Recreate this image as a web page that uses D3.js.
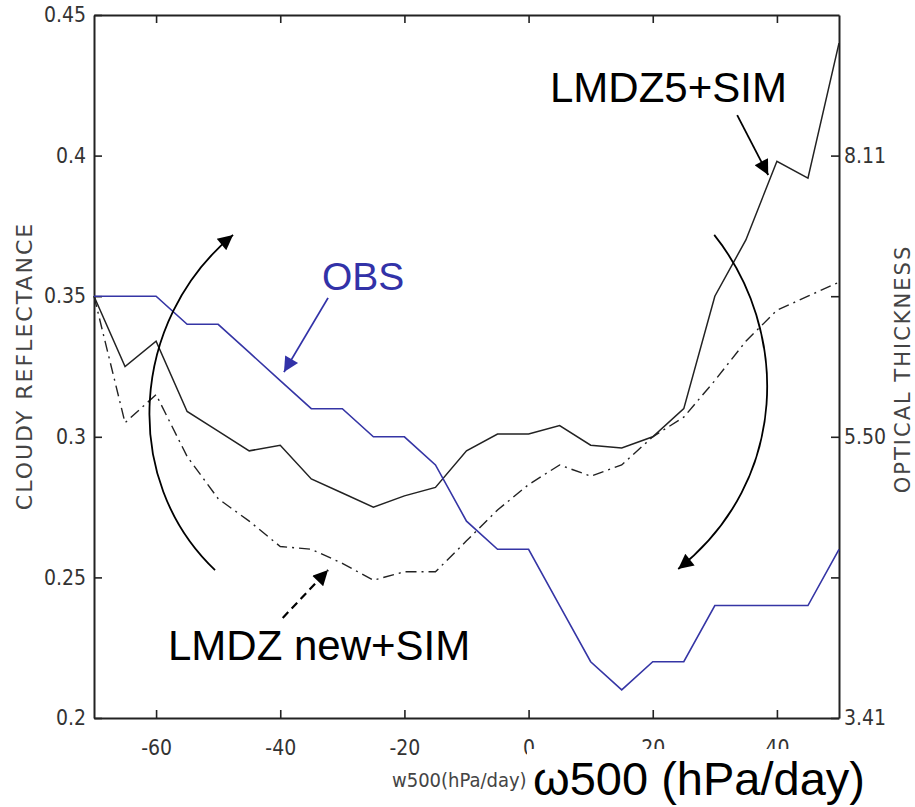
<!DOCTYPE html>
<html>
<head>
<meta charset="utf-8">
<script src="https://cdn.jsdelivr.net/npm/d3@7"></script>
<style>
  body { margin: 0; background: #fff; }
  svg { display: block; }
</style>
</head>
<body>
<div id="chart"></div>
<script>

// omega500 bins (hPa/day)
let omega = [-70, -65, -60, -55, -50, -45, -40, -35, -30, -25, -20, -15, -10, -5, 0, 5, 10, 15, 20, 25, 30, 35, 40, 45, 50];

// cloudy reflectance per bin
let obsRefl     = [0.350, 0.350, 0.350, 0.340, 0.340, 0.330, 0.320, 0.310, 0.310, 0.300, 0.300, 0.290, 0.270, 0.260, 0.260, 0.240, 0.220, 0.210, 0.220, 0.220, 0.240, 0.240, 0.240, 0.240, 0.260];
let lmdz5Refl   = [0.350, 0.325, 0.334, 0.309, 0.302, 0.295, 0.297, 0.285, 0.280, 0.275, 0.279, 0.282, 0.295, 0.301, 0.301, 0.304, 0.297, 0.296, 0.300, 0.310, 0.350, 0.370, 0.398, 0.392, 0.440];
let lmdzNewRefl = [0.350, 0.305, 0.315, 0.293, 0.278, 0.270, 0.261, 0.260, 0.255, 0.249, 0.252, 0.252, 0.263, 0.274, 0.283, 0.290, 0.286, 0.290, 0.300, 0.307, 0.320, 0.334, 0.345, 0.350, 0.355];

// axis ticks
let xTicks = [-60, -40, -20, 0, 20, 40];
let yTicks = [0.2, 0.25, 0.3, 0.35, 0.4, 0.45];
let rightTicks = [0.2, 0.25, 0.3, 0.35, 0.4];
let rightTickLabels = ['3.41', '', '5.50', '', '8.11'];

let width = 915;
let height = 807;
let margin = { top: 15, bottom: 89, left: 94, right: 76 };

let tickFont = "'DejaVu Sans Condensed', 'DejaVu Sans', sans-serif";
let textFont = "'Liberation Sans', Arial, sans-serif";

let svg = d3.select('#chart')
  .append('svg')
  .attr('width', width)
  .attr('height', height)
  .style('background-color', '#fff');

let xScale = d3.scaleLinear()
  .domain([-70, 50])
  .range([margin.left, width - margin.right]);

let yScale = d3.scaleLinear()
  .domain([0.2, 0.45])
  .range([height - margin.bottom, margin.top]);

// arrow heads
let defs = svg.append('defs');
function head(id, color) {
  defs.append('marker')
    .attr('id', id)
    .attr('viewBox', '0 0 10 10')
    .attr('refX', 10)
    .attr('refY', 5)
    .attr('markerUnits', 'userSpaceOnUse')
    .attr('markerWidth', 19)
    .attr('markerHeight', 15)
    .attr('orient', 'auto')
    .append('path')
    .attr('d', 'M0,0 L10,5 L0,10 z')
    .attr('fill', color);
}
head('headBlack', '#000');
head('headBlue', '#3232a8');

//Draw Axes
function styleAxis(g) {
  g.select('.domain').attr('stroke', '#222').attr('stroke-width', 2);
  g.selectAll('.tick line').attr('stroke', '#222').attr('stroke-width', 1.6);
  g.selectAll('.tick text')
    .style('font-family', tickFont)
    .style('font-size', '21px')
    .attr('fill', '#333');
}

svg.append('g')
  .attr('transform', `translate(0,${height - margin.bottom})`)
  .call(d3.axisBottom(xScale).tickValues(xTicks).tickSizeInner(-8).tickSizeOuter(0).tickPadding(22).tickFormat(d => String(d)))
  .call(styleAxis);

svg.append('g')
  .attr('transform', `translate(0,${margin.top})`)
  .call(d3.axisTop(xScale).tickValues(xTicks).tickSizeInner(-8).tickSizeOuter(0).tickFormat(''))
  .call(styleAxis);

svg.append('g')
  .attr('transform', `translate(${margin.left},0)`)
  .call(d3.axisLeft(yScale).tickValues(yTicks).tickSizeInner(-8).tickSizeOuter(0).tickPadding(8).tickFormat(d => String(+d.toFixed(2))))
  .call(styleAxis);

svg.append('g')
  .attr('transform', `translate(${width - margin.right},0)`)
  .call(d3.axisRight(yScale).tickValues(rightTicks).tickSizeInner(-8).tickSizeOuter(0).tickPadding(5).tickFormat((d, i) => rightTickLabels[i]))
  .call(styleAxis);

// axis titles
svg.append('text')
  .attr('transform', 'translate(32,366) rotate(-90)')
  .attr('text-anchor', 'middle')
  .style('font-family', "'DejaVu Sans', sans-serif")
  .style('font-size', '22px')
  .style('letter-spacing', '2px')
  .attr('fill', '#444')
  .text('CLOUDY REFLECTANCE');

svg.append('text')
  .attr('transform', 'translate(910,369) rotate(-90)')
  .attr('text-anchor', 'middle')
  .style('font-family', "'DejaVu Sans', sans-serif")
  .style('font-size', '21px')
  .style('letter-spacing', '2px')
  .attr('fill', '#444')
  .text('OPTICAL THICKNESS');

svg.append('text')
  .attr('x', 392)
  .attr('y', 787)
  .style('font-family', tickFont)
  .style('font-size', '20px')
  .attr('fill', '#444')
  .text('w500(hPa/day)');

//Draw lines
let line = d3.line()
  .x((d, i) => xScale(omega[i]))
  .y(d => yScale(d));

svg.append('path')
  .datum(lmdzNewRefl)
  .attr('d', line)
  .attr('fill', 'none')
  .attr('stroke', '#222')
  .attr('stroke-width', 1.4)
  .attr('stroke-dasharray', '11,5,2,5');

svg.append('path')
  .datum(lmdz5Refl)
  .attr('d', line)
  .attr('fill', 'none')
  .attr('stroke', '#222')
  .attr('stroke-width', 1.5);

svg.append('path')
  .datum(obsRefl)
  .attr('d', line)
  .attr('fill', 'none')
  .attr('stroke', '#3535a5')
  .attr('stroke-width', 1.6);

// annotations (in data units)
function P(p) { return xScale(p[0]) + ',' + yScale(p[1]); }

let leftCurve = [[-50.5, 0.2526], [-65.8, 0.2846], [-64.2, 0.3415], [-47.6, 0.3718]];
let rightCurve = [[29.9, 0.3718], [42.1, 0.338], [42.1, 0.2846], [24.1, 0.253]];

[leftCurve, rightCurve].forEach(c => {
  svg.append('path')
    .attr('d', `M${P(c[0])} C${P(c[1])} ${P(c[2])} ${P(c[3])}`)
    .attr('fill', 'none')
    .attr('stroke', '#000')
    .attr('stroke-width', 1.8)
    .attr('marker-end', 'url(#headBlack)');
});

svg.append('line') // LMDZ5 arrow
  .attr('x1', xScale(33.6)).attr('y1', yScale(0.4144))
  .attr('x2', xScale(38.6)).attr('y2', yScale(0.3931))
  .attr('stroke', '#000').attr('stroke-width', 1.8)
  .attr('marker-end', 'url(#headBlack)');

svg.append('line') // OBS arrow
  .attr('x1', xScale(-32.3)).attr('y1', yScale(0.3494))
  .attr('x2', xScale(-39.4)).attr('y2', yScale(0.323))
  .attr('stroke', '#3232a8').attr('stroke-width', 1.8)
  .attr('marker-end', 'url(#headBlue)');

svg.append('line') // LMDZ new arrow
  .attr('x1', xScale(-39.6)).attr('y1', yScale(0.2356))
  .attr('x2', xScale(-32.3)).attr('y2', yScale(0.2526))
  .attr('stroke', '#000').attr('stroke-width', 2.2)
  .attr('stroke-dasharray', '8,5')
  .attr('marker-end', 'url(#headBlack)');

svg.append('text')
  .attr('x', 550).attr('y', 102)
  .style('font-family', textFont).style('font-size', '42px')
  .attr('fill', '#000')
  .text('LMDZ5+SIM');

svg.append('text')
  .attr('x', 322).attr('y', 290)
  .style('font-family', textFont).style('font-size', '39px')
  .attr('fill', '#3232a8')
  .text('OBS');

svg.append('text')
  .attr('x', 168).attr('y', 660)
  .style('font-family', textFont).style('font-size', '42px')
  .attr('fill', '#000')
  .text('LMDZ new+SIM');

// big x label pasted over the bottom right
svg.append('rect')
  .attr('x', 527).attr('y', 749)
  .attr('width', width - 527).attr('height', height - 749)
  .attr('fill', '#fff');

svg.append('text')
  .attr('x', 533).attr('y', 795)
  .style('font-family', textFont).style('font-size', '47px')
  .attr('fill', '#000')
  .text('ω500 (hPa/day)');

</script>
</body>
</html>
